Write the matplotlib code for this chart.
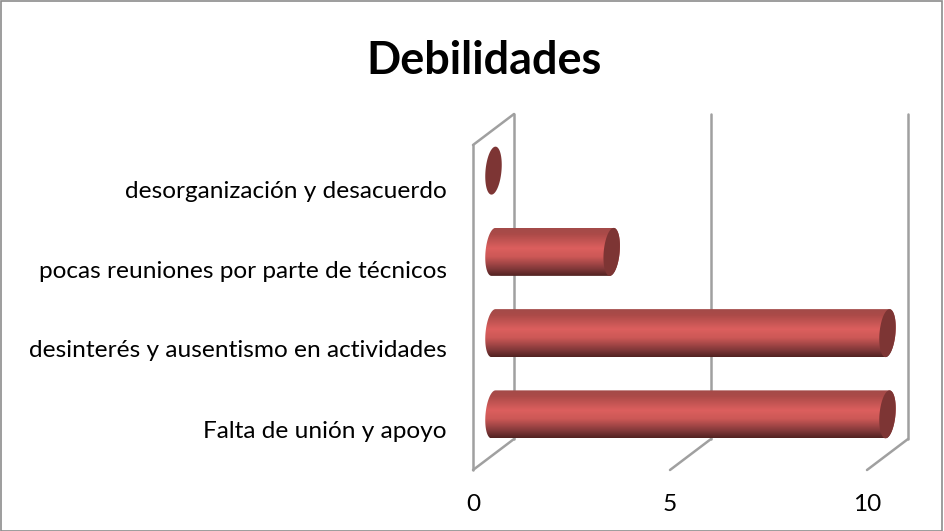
import numpy as np
import matplotlib
matplotlib.use('Agg')
import matplotlib.pyplot as plt
from matplotlib.colors import LinearSegmentedColormap
from matplotlib.patches import Polygon, Rectangle
from matplotlib.transforms import ScaledTranslation

# Given data
categories = ['Falta de unión y apoyo', 'desinterés y ausentismo en actividades',
              'pocas reuniones por parte de técnicos', 'desorganización y desacuerdo']
values = [10, 10, 3, 0]
x_ticks = [0, 5, 10]

W, H = 944, 531
plt.rcParams['font.family'] = ['Lato', 'DejaVu Sans']

fig = plt.figure(figsize=(W / 100, H / 100), dpi=100)
fig.patch.set_facecolor('white')
fig.add_artist(Rectangle((0.5 / W, 0.5 / H), (W - 2.5) / W, (H - 1) / H, transform=fig.transFigure,
                         fill=False, ec='#8c8c8c', lw=1.2))

# front plane of the 3d box: x 473-867, y 145-470 in pixels
ax = fig.add_axes([473 / W, (H - 470) / H, (867 - 473) / W, (470 - 145) / H])
ax.patch.set_alpha(0)
for s in ax.spines.values():
    s.set_visible(False)

# depth of the box and bar shape, in data units
depth_x, depth_y = 41 / 39.4, 31 / 81.25
bar_dx, bar_dy = 20.5 / 39.4, 15 / 81.25
half_h = 24 / 81.25
half_w = 8 / 39.4
shear = 2 / 39.4

wall = dict(color='#a0a0a0', lw=1.8, clip_on=False, zorder=1, solid_capstyle='round')
for t in x_ticks:
    ax.plot([t + depth_x, t + depth_x], [-0.5 + depth_y, 3.5 + depth_y], **wall)
    ax.plot([t, t + depth_x], [-0.5, -0.5 + depth_y], **wall)
ax.plot([0, 0], [-0.5, 3.5], **wall)
ax.plot([0, depth_x], [3.5, 3.5 + depth_y], **wall)

cmap = LinearSegmentedColormap.from_list('bar', [
    (0.0, '#a34b49'), (0.12, '#ab4a48'), (0.42, '#dc5f5e'), (0.6, '#cc5856'),
    (0.85, '#83393a'), (1.0, '#522322')])
grad = np.linspace(0, 1, 100).reshape(-1, 1)


def end_cap(cx, cy, t):
    return np.column_stack([cx + half_w * np.cos(t) + shear * np.sin(t), cy + half_h * np.sin(t)])


for i, v in enumerate(values):
    cx0 = bar_dx
    cy = i + bar_dy
    if v > 0:
        left = end_cap(cx0, cy, np.linspace(np.pi / 2, 3 * np.pi / 2, 40))
        right = end_cap(cx0 + v, cy, np.linspace(-np.pi / 2, np.pi / 2, 40))
        body = Polygon(np.vstack([left, right]), closed=True, transform=ax.transData, fc='none', ec='none')
        ax.add_patch(body)
        im = ax.imshow(grad, cmap=cmap, aspect='auto', zorder=2,
                       extent=[cx0 - 0.4, cx0 + v + 0.4, cy - half_h, cy + half_h], origin='upper')
        im.set_clip_path(body)
        # the bars stick out of the front plane, so only the body shape may clip them
        im.set_clip_box(fig.bbox)
    cap = end_cap(cx0 + v, cy, np.linspace(0, 2 * np.pi, 80))
    ax.add_patch(Polygon(cap, closed=True, fc='#7d3534', ec='none', zorder=3, clip_on=False))

ax.set_xlim(0, 10)
ax.set_ylim(-0.5, 3.5)
ax.set_aspect('auto')
ax.set_xticks(x_ticks)
ax.set_xticklabels([str(t) for t in x_ticks], fontsize=17.6, color='black')
ax.set_yticks(range(len(categories)))
ax.set_yticklabels(categories, fontsize=17.6, color='black')
ax.tick_params(axis='both', length=0)
ax.tick_params(axis='x', pad=17)
ax.tick_params(axis='y', pad=19)
# labels in the original sit a few pixels off the band centres
for lab, px in zip(ax.get_yticklabels(), [0, 0, 3, 4]):
    lab.set_transform(lab.get_transform() + ScaledTranslation(0, -px / 100, fig.dpi_scale_trans))

fig.text(484.5 / W, 1 - 61 / H, 'Debilidades', ha='center', va='center',
         fontsize=32.4, fontweight='bold', color='black')

fig.savefig('out.png', dpi=100)
